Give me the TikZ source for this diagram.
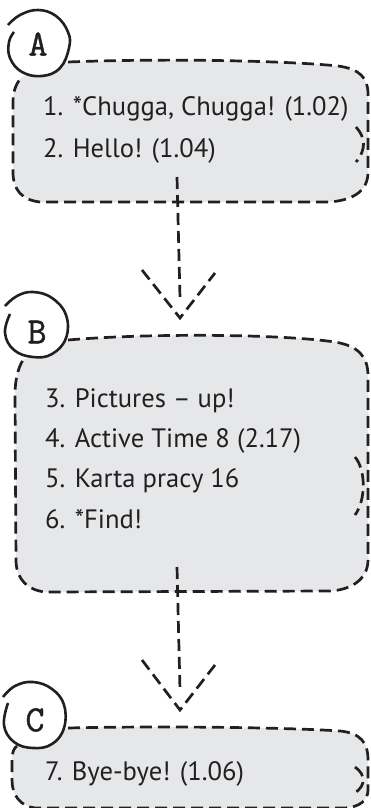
\documentclass[tikz,border=0pt]{standalone}
\usepackage{fontspec}
\setmainfont{PT Sans}
\newfontfamily\letterfont[FakeBold=1.2]{Latin Modern Mono}
\definecolor{boxfill}{HTML}{E6E7E8}
\definecolor{ink}{HTML}{231F20}
\tikzset{
  edge/.style={draw=ink, line width=2.7pt, dash pattern=on 12pt off 6pt},
  ring/.style={draw=ink, line width=2.6pt, fill=white},
  item/.style={anchor=base west, inner sep=0pt, text=ink, font=\fontsize{26.6}{26.6}\selectfont},
  letter/.style={inner sep=0pt, text=ink, font=\letterfont\fontsize{37}{37}\selectfont},
}
\begin{document}
\begin{tikzpicture}[x=1pt,y=-1pt]
\useasboundingbox (0,0) rectangle (370,808);

% ---------- Box A ----------
\draw[edge, preaction={fill=boxfill}] (68,62) .. controls (170,58) and (290,61) .. (338,66)
  .. controls (360,69) and (368,78) .. (368,94) -- (368,172)
  .. controls (368,192) and (352,200) .. (330,202) -- (40,202)
  .. controls (22,200) and (13,190) .. (13,172) -- (13,102)
  .. controls (13,90) and (17,82) .. (22,77);
\draw[edge] (356,127) .. controls (366,138) and (366,150) .. (356,162);
\filldraw[ring] plot[smooth, tension=0.7] coordinates {(8,25) (20,15) (38,10) (56,16) (68,32) (69,48) (60,68) (42,76) (22,72) (10,58) (9,42) (14,32)};
\node[letter] (A) at (38,44) {A};
\node[item] (a1) at (43,115) {1. *Chugga, Chugga! (1.02)};
\node[item] (a2) at (43,157) {2. Hello! (1.04)};

% ---------- Box B ----------
\draw[edge, preaction={fill=boxfill}] (68,340) .. controls (150,333) and (280,334) .. (335,342)
  .. controls (358,346) and (368,356) .. (368,376) -- (368,560)
  .. controls (368,580) and (350,590) .. (330,591) -- (45,592)
  .. controls (28,590) and (17,580) .. (16,562) -- (15,395)
  .. controls (15,380) and (18,368) .. (23,360);
\draw[edge] (355,457) .. controls (366,470) and (366,500) .. (355,515);
\filldraw[ring] plot[smooth, tension=0.7] coordinates {(5,306) (17,296) (33,292) (52,298) (66,315) (66,338) (52,354) (33,357) (14,350) (5,333) (10,314)};
\node[letter] (B) at (37,332) {B};
\node[item] (b1) at (45,407) {3. Pictures – up!};
\node[item] (b2) at (45,447) {4. Active Time 8 (2.17)};
\node[item] (b3) at (45,487) {5. Karta pracy 16};
\node[item] (b4) at (45,528) {6. *Find!};

% ---------- Box C ----------
\draw[edge, preaction={fill=boxfill}] (68,728) .. controls (150,726) and (280,727) .. (340,731)
  .. controls (360,733) and (368,742) .. (368,760) -- (368,790)
  .. controls (368,800) and (360,807) .. (345,808) -- (35,808)
  .. controls (20,806) and (12,795) .. (12,780) -- (12,760)
  .. controls (12,752) and (14,748) .. (17,746);
\draw[edge] (355,767) .. controls (366,775) and (366,785) .. (355,793);
\filldraw[ring] plot[smooth, tension=0.7] coordinates {(3,697) (15,686) (33,682) (52,689) (64,705) (64,728) (52,744) (33,748) (14,742) (4,725) (8,703)};
\node[letter] (C) at (35,720) {C};
\node[item] (c1) at (45,780) {7. Bye-bye! (1.06)};

% ---------- Arrows ----------
\coordinate (abStart) at (177,177);
\coordinate (abEnd) at (180,298);
\coordinate (abTip) at (180,318);
\coordinate (abL) at (142,270);
\coordinate (abR) at (215,273);
\draw[edge] (abStart) -- (abEnd);
\draw[edge] (abL) -- (abTip) -- (abR);

\coordinate (bcStart) at (177,567);
\coordinate (bcEnd) at (180,690);
\coordinate (bcTip) at (180,710);
\coordinate (bcL) at (142,660);
\coordinate (bcR) at (215,665);
\draw[edge] (bcStart) -- (bcEnd);
\draw[edge] (bcL) -- (bcTip) -- (bcR);
\end{tikzpicture}
\end{document}
